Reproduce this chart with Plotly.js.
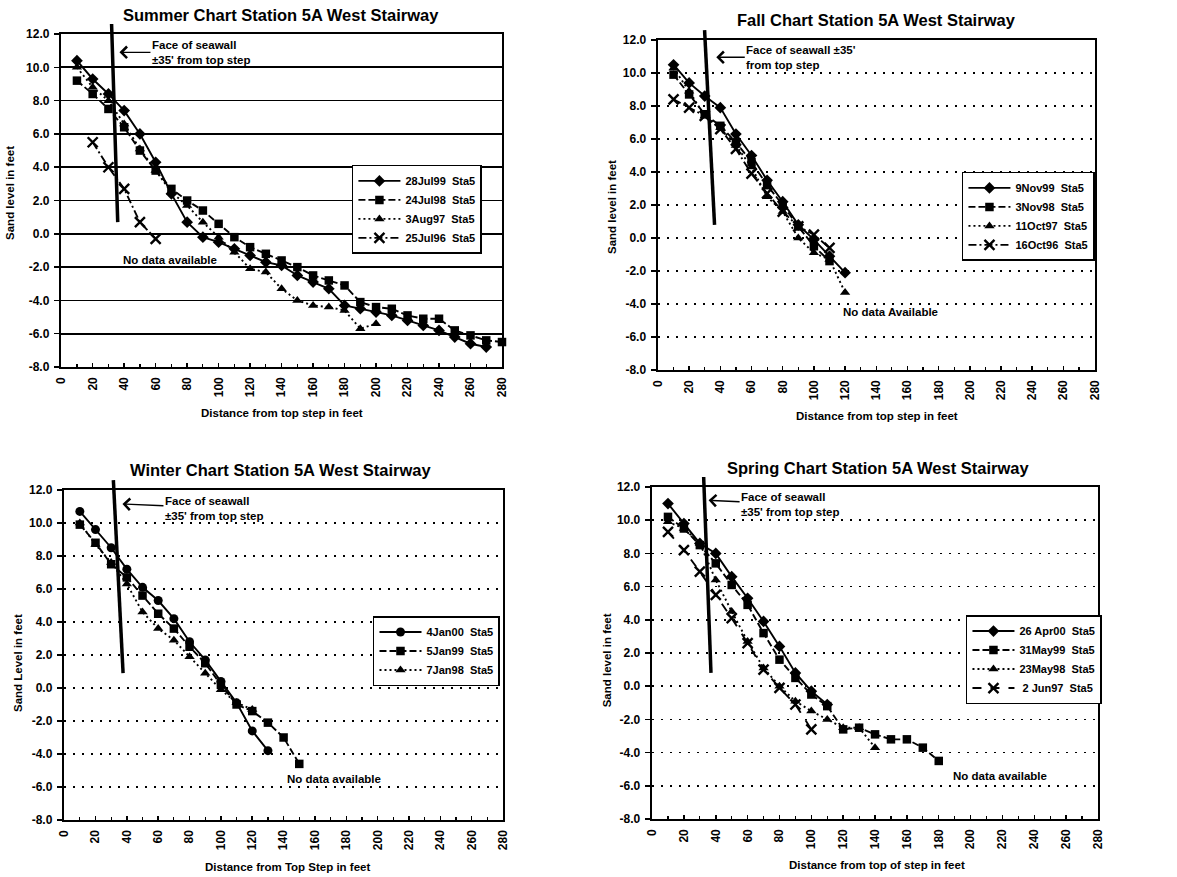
<!DOCTYPE html>
<html><head><meta charset="utf-8">
<script src="https://cdn.plot.ly/plotly-3.0.1.min.js"></script>
<style>html,body{margin:0;padding:0;background:#fff}#chart{width:1177px;height:877px}</style>
</head><body><div id="chart"></div>
<script>
// ---------- tick labels ----------
const xTickVals = [0,20,40,60,80,100,120,140,160,180,200,220,240,260,280];
const xTickText = ['0','20','40','60','80','100','120','140','160','180','200','220','240','260','280'];
const yTickVals = [12,10,8,6,4,2,0,-2,-4,-6,-8];
const yTickText = ['12.0','10.0','8.0','6.0','4.0','2.0','0.0','-2.0','-4.0','-6.0','-8.0'];

// ---------- Summer ----------
const sumX_28Jul99 = [10,20,30,40,50,60,70,80,90,100,110,120,130,140,150,160,170,180,190,200,210,220,230,240,250,260,270];
const sumY_28Jul99 = [10.4,9.3,8.4,7.4,6.0,4.3,2.4,0.7,-0.2,-0.5,-0.9,-1.3,-1.7,-1.9,-2.5,-2.9,-3.3,-4.3,-4.5,-4.7,-4.9,-5.2,-5.5,-5.8,-6.2,-6.6,-6.8];
const sumX_24Jul98 = [10,20,30,40,50,60,70,80,90,100,110,120,130,140,150,160,170,180,190,200,210,220,230,240,250,260,270,280];
const sumY_24Jul98 = [9.2,8.4,7.5,6.4,5.0,3.8,2.7,2.0,1.4,0.6,-0.2,-0.8,-1.2,-1.6,-2.0,-2.5,-2.8,-3.1,-4.1,-4.4,-4.5,-4.9,-5.1,-5.1,-5.8,-6.1,-6.4,-6.5];
const sumX_3Aug97 = [10,20,30,40,50,60,70,80,90,100,110,120,130,140,150,160,170,180,190,200];
const sumY_3Aug97 = [10.0,8.8,8.0,6.6,5.1,3.8,2.5,1.7,0.7,-0.2,-1.1,-2.1,-2.3,-3.3,-4.0,-4.3,-4.4,-4.6,-5.7,-5.4];
const sumX_25Jul96 = [20,30,40,50,60];
const sumY_25Jul96 = [5.5,4.0,2.7,0.7,-0.3];

// ---------- Fall ----------
const fallX_9Nov99 = [10,20,30,40,50,60,70,80,90,100,110,120];
const fallY_9Nov99 = [10.5,9.4,8.6,7.9,6.3,5.0,3.5,2.2,0.8,-0.1,-1.1,-2.1];
const fallX_3Nov98 = [10,20,30,40,50,60,70,80,90,100,110];
const fallY_3Nov98 = [9.9,8.7,7.5,6.8,5.8,4.6,3.2,2.0,0.7,-0.5,-1.4];
const fallX_11Oct97 = [10,20,30,40,50,60,70,80,90,100,110,120];
const fallY_11Oct97 = [10.3,8.9,7.4,6.7,5.6,4.3,2.5,1.6,0.0,-0.9,-1.3,-3.3];
const fallX_16Oct96 = [10,20,30,40,50,60,70,80,90,100,110];
const fallY_16Oct96 = [8.4,7.9,7.4,6.6,5.4,3.9,2.7,1.6,0.7,0.2,-0.6];

// ---------- Winter ----------
const winX_4Jan00 = [10,20,30,40,50,60,70,80,90,100,110,120,130];
const winY_4Jan00 = [10.7,9.6,8.5,7.2,6.1,5.3,4.2,2.8,1.7,0.4,-0.9,-2.6,-3.8];
const winX_5Jan99 = [10,20,30,40,50,60,70,80,90,100,110,120,130,140,150];
const winY_5Jan99 = [9.9,8.8,7.5,6.7,5.6,4.5,3.6,2.5,1.5,0.2,-1.0,-1.4,-2.1,-3.0,-4.6];
const winX_7Jan98 = [10,20,30,40,50,60,70,80,90,100,110,120];
const winY_7Jan98 = [10.0,8.7,7.6,6.3,4.6,3.6,2.9,1.9,0.9,-0.1,-0.9,-1.3];

// ---------- Spring ----------
const sprX_26Apr00 = [10,20,30,40,50,60,70,80,90,100,110];
const sprY_26Apr00 = [11.0,9.8,8.6,8.0,6.6,5.3,3.9,2.4,0.8,-0.3,-1.1];
const sprX_31May99 = [10,20,30,40,50,60,70,80,90,100,110,120,130,140,150,160,170,180];
const sprY_31May99 = [10.2,9.5,8.5,7.4,6.1,4.9,3.2,1.6,0.5,-0.5,-1.2,-2.6,-2.5,-2.9,-3.2,-3.2,-3.7,-4.5];
const sprX_23May98 = [10,20,30,40,50,60,70,80,90,100,110,120,130,140];
const sprY_23May98 = [9.9,9.5,8.6,6.4,4.5,2.7,1.1,0.0,-0.9,-1.5,-2.0,-2.5,-2.5,-3.7];
const sprX_2Jun97 = [10,20,30,40,50,60,70,80,90,100];
const sprY_2Jun97 = [9.3,8.2,6.9,5.5,4.1,2.6,1.0,-0.1,-1.1,-2.6];

// ---------- seawall marker line [xTop, yTop, xBottom, yBottom] ----------
const seawallSummer = [32.0, 12.6, 35.9, 0.7];
const seawallFall   = [29.9, 12.6, 36.3, 0.8];
const seawallWinter = [31.4, 12.6, 37.6, 0.9];
const seawallSpring = [32.4, 12.6, 37.0, 0.8];
const yMin = -8, yMax = 12;

const FONT = 'Liberation Sans, Arial, sans-serif';
const BLACK = '#000';

function tr(x, y, name, sym, dash, ax, leg) {
  const isX = sym === 'x-thin';
  return {
    type: 'scatter', mode: 'lines+markers', x: x, y: y, name: name,
    xaxis: 'x' + ax, yaxis: 'y' + ax, legend: leg,
    line: {color: BLACK, width: 1.9, dash: dash},
    marker: isX ? {symbol: 'x-thin', size: 10, color: BLACK, line: {color: BLACK, width: 2.4}}
                : {symbol: sym, size: sym === 'square' ? 8.5 : 9, color: BLACK, line: {width: 0}},
    cliponaxis: false
  };
}
const DASH_SQ = '7px,3px';
const DASH_TRI = '2px,3px';
const DASH_DD = '8px,3px,2px,3px';

const data = [
  tr(sumX_28Jul99, sumY_28Jul99, '28Jul99  Sta5', 'diamond', 'solid', '', 'legend'),
  tr(sumX_24Jul98, sumY_24Jul98, '24Jul98  Sta5', 'square', DASH_SQ, '', 'legend'),
  tr(sumX_3Aug97, sumY_3Aug97, '3Aug97  Sta5', 'triangle-up', DASH_TRI, '', 'legend'),
  tr(sumX_25Jul96, sumY_25Jul96, '25Jul96  Sta5', 'x-thin', DASH_DD, '', 'legend'),

  tr(fallX_9Nov99, fallY_9Nov99, '9Nov99  Sta5', 'diamond', 'solid', '2', 'legend2'),
  tr(fallX_3Nov98, fallY_3Nov98, '3Nov98  Sta5', 'square', DASH_SQ, '2', 'legend2'),
  tr(fallX_11Oct97, fallY_11Oct97, '11Oct97  Sta5', 'triangle-up', DASH_TRI, '2', 'legend2'),
  tr(fallX_16Oct96, fallY_16Oct96, '16Oct96  Sta5', 'x-thin', DASH_DD, '2', 'legend2'),

  tr(winX_4Jan00, winY_4Jan00, '4Jan00  Sta5', 'circle', 'solid', '3', 'legend3'),
  tr(winX_5Jan99, winY_5Jan99, '5Jan99  Sta5', 'square', DASH_SQ, '3', 'legend3'),
  tr(winX_7Jan98, winY_7Jan98, '7Jan98  Sta5', 'triangle-up', DASH_TRI, '3', 'legend3'),

  tr(sprX_26Apr00, sprY_26Apr00, '26 Apr00  Sta5', 'diamond', 'solid', '4', 'legend4'),
  tr(sprX_31May99, sprY_31May99, '31May99  Sta5', 'square', DASH_SQ, '4', 'legend4'),
  tr(sprX_23May98, sprY_23May98, '23May98  Sta5', 'triangle-up', DASH_TRI, '4', 'legend4'),
  tr(sprX_2Jun97, sprY_2Jun97, ' 2 Jun97  Sta5', 'x-thin', 'dash', '4', 'legend4')
];

const tickFont = {family: FONT, size: 12, color: BLACK, weight: 'bold'};
function xAxis(dom, anchor) {
  return {domain: dom, anchor: anchor, range: [0, 280], tickvals: xTickVals, ticktext: xTickText,
    tickangle: -90, ticks: 'inside', ticklen: 4, tickwidth: 1.5, tickcolor: BLACK,
    minor: {tickvals: [10,30,50,70,90,110,130,150,170,190,210,230,250,270], ticks: 'inside', ticklen: 3, tickwidth: 1.2, tickcolor: BLACK, showgrid: false},
    ticklabelstandoff: 3,
    showline: true, linewidth: 2.4, linecolor: BLACK, mirror: true, showgrid: false, zeroline: false,
    tickfont: tickFont, fixedrange: true};
}
function yAxis(dom, anchor, solidGrid) {
  return {domain: dom, anchor: anchor, range: [yMin, yMax], tickvals: yTickVals, ticktext: yTickText,
    ticks: 'outside', ticklen: 5, tickwidth: 1.5, tickcolor: BLACK, ticklabelstandoff: 2,
    showline: true, linewidth: 2.4, linecolor: BLACK, mirror: true, zeroline: false,
    showgrid: true, gridcolor: BLACK, gridwidth: solidGrid ? 1.7 : 1.7,
    griddash: solidGrid ? 'solid' : '2px,7px',
    tickfont: tickFont, fixedrange: true};
}
function legendBox(x, y) {
  return {x: x, y: y, xanchor: 'left', yanchor: 'top', bgcolor: '#fff', bordercolor: BLACK, borderwidth: 1.5,
    font: {family: FONT, size: 11, color: BLACK, weight: 'bold'}, tracegroupgap: 0, itemwidth: 42};
}

const annFont = {family: FONT, size: 11.5, color: BLACK, weight: 'bold'};
const titleFont = {family: FONT, size: 16.5, color: BLACK, weight: 'bold'};
const axTitleFont = {family: FONT, size: 11.5, color: BLACK, weight: 'bold'};

function paperText(text, x, y, font, angle) {
  return {text: text, xref: 'paper', yref: 'paper', x: x, y: y, showarrow: false, font: font,
    textangle: angle || 0, xanchor: 'center', yanchor: 'middle'};
}
function seawallNote(text, ax, tipX, tipY, dx, dy) {
  return {text: text, xref: 'x' + ax, yref: 'y' + ax, x: tipX, y: tipY, ax: dx, ay: dy,
    showarrow: true, arrowhead: 4, arrowsize: 1.6, arrowwidth: 1.4, arrowcolor: BLACK, standoff: 0,
    align: 'left', font: annFont};
}
function noData(text, ax, x, y) {
  return {text: text, xref: 'x' + ax, yref: 'y' + ax, x: x, y: y, showarrow: false,
    xanchor: 'left', yanchor: 'middle', font: annFont};
}
function dom(v) { return (v - yMin) / (yMax - yMin); }
function wall(ax, w) {
  return {type: 'line', xref: 'x' + ax, yref: 'y' + ax + ' domain',
    x0: w[0], y0: dom(w[1]), x1: w[2], y1: dom(w[3]), line: {color: BLACK, width: 3.5}};
}

const layout = {
  width: 1177, height: 877, margin: {l: 0, r: 0, t: 0, b: 0},
  paper_bgcolor: '#fff', plot_bgcolor: '#fff', font: {family: FONT, color: BLACK},
  showlegend: true,
  xaxis: xAxis([0.052, 0.4265], 'y'),
  yaxis: yAxis([0.5815, 0.9612], 'x', true),
  xaxis2: xAxis([0.559, 0.930], 'y2'),
  yaxis2: yAxis([0.5781, 0.9544], 'x2', false),
  xaxis3: xAxis([0.0545, 0.4274], 'y3'),
  yaxis3: yAxis([0.0650, 0.4413], 'x3', false),
  xaxis4: xAxis([0.554, 0.9329], 'y4'),
  yaxis4: yAxis([0.0661, 0.4447], 'x4', false),
  legend: legendBox(0.299, 0.812),
  legend2: legendBox(0.8173, 0.804),
  legend3: legendBox(0.3169, 0.2976),
  legend4: legendBox(0.8207, 0.2987),
  shapes: [wall('', seawallSummer), wall('2', seawallFall), wall('3', seawallWinter), wall('4', seawallSpring)],
  annotations: [
    paperText('Summer Chart Station 5A West Stairway', 0.2388, 0.983, titleFont),
    paperText('Fall Chart Station 5A West Stairway', 0.7445, 0.977, titleFont),
    paperText('Winter Chart Station 5A West Stairway', 0.2379, 0.464, titleFont),
    paperText('Spring Chart Station 5A West Stairway', 0.7460, 0.466, titleFont),

    paperText('Distance from top step in feet', 0.2396, 0.529, axTitleFont),
    paperText('Distance from top step in feet', 0.745, 0.526, axTitleFont),
    paperText('Distance from Top Step in feet', 0.244, 0.0114, axTitleFont),
    paperText('Distance from top of step in feet', 0.745, 0.0137, axTitleFont),

    paperText('Sand level in feet', 0.0085, 0.780, axTitleFont, -90),
    paperText('Sand level in feet', 0.520, 0.764, axTitleFont, -90),
    paperText('Sand Level in feet', 0.0153, 0.244, axTitleFont, -90),
    paperText('Sand level in feet', 0.5157, 0.247, axTitleFont, -90),

    seawallNote('Face of seawall<br>±35\' from top step', '', 37, 10.9, 82, 0),
    seawallNote('Face of seawall ±35\'<br>from top step', '2', 37.4, 10.95, 85, 0),
    seawallNote('Face of seawall<br>±35\' from top step', '3', 37.2, 11.15, 92, 4),
    seawallNote('Face of seawall<br>±35\' from top step', '4', 35.5, 11.2, 82, 4),

    noData('No data available', '', 38, -1.6),
    noData('No data Available', '2', 117.5, -4.5),
    noData('No data available', '3', 141, -5.5),
    noData('No data available', '4', 188, -5.4)
  ]
};

Plotly.newPlot('chart', data, layout, {displayModeBar: false, staticPlot: true});
</script></body></html>
